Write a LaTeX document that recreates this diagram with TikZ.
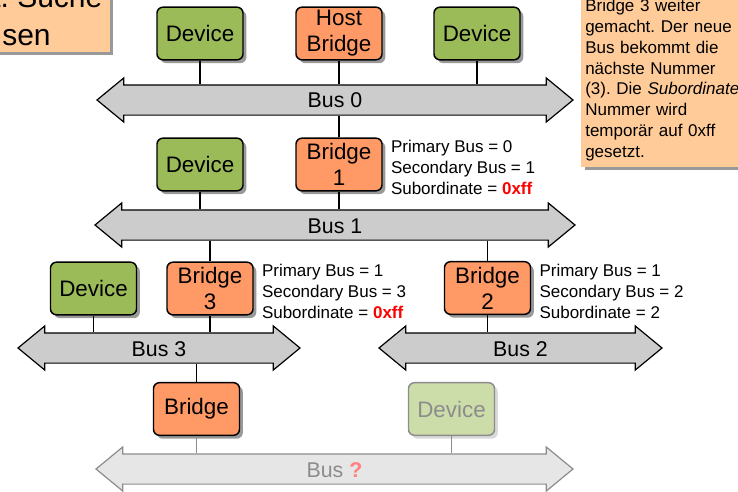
\documentclass[tikz,border=0pt]{standalone}
\usepackage{fontspec}
\setmainfont{Liberation Sans}
\usetikzlibrary{positioning}
\usetikzlibrary{shapes.arrows}
\usetikzlibrary{shadows}
\frenchspacing

\definecolor{devgreen}{HTML}{9BBB59}
\definecolor{bridgeorange}{HTML}{FF9966}
\definecolor{notepeach}{HTML}{FFCC99}
\definecolor{busgray}{HTML}{CCCCCC}
\definecolor{fadegreen}{HTML}{CCDDAA}
\definecolor{fadebus}{HTML}{E6E6E6}
\definecolor{fadeline}{HTML}{8C8C8C}
\definecolor{fadered}{HTML}{FF8080}

\tikzset{
  box/.style={draw, line width=1.1pt, rounded corners=4.5pt, minimum width=64.5pt, minimum height=39.5pt, inner sep=1pt, align=center, font=\fontsize{16.8}{19.5}\selectfont},
  device/.style={box, fill=devgreen, drop shadow={shadow xshift=2.5pt, shadow yshift=-2.5pt, fill=black!40, opacity=1}},
  bridge/.style={box, fill=bridgeorange, drop shadow={shadow xshift=2.5pt, shadow yshift=-2.5pt, fill=black!40, opacity=1}},
  faded/.style={box, draw=fadeline, fill=fadegreen, text=fadeline, drop shadow={shadow xshift=2.5pt, shadow yshift=-2.5pt, fill=black!15, opacity=1}},
  bus/.style={double arrow, draw, line width=0.9pt, fill=busgray, double arrow head extend=5.25pt, double arrow tip angle=79, minimum width=32.25pt, text height=12pt, text depth=0pt, inner xsep=0pt, inner ysep=4.875pt, font=\fontsize{16}{19}\selectfont},
  fadedbus/.style={draw=fadeline, fill=fadebus, text=fadeline},
  wire/.style={line width=0.9pt},
  fadewire/.style={line width=0.9pt, draw=fadeline},
  info/.style={align=left, inner sep=0pt, font=\fontsize{12.75}{15.75}\selectfont},
  note/.style={fill=notepeach, align=left, drop shadow={shadow xshift=2.5pt, shadow yshift=-2.5pt, fill=black!40, opacity=1}},
  bigtext/.style={inner sep=0pt, font=\fontsize{22.5}{27}\selectfont},
}

\begin{document}
\begin{tikzpicture}[x=0.75pt, y=-0.75pt]
  \useasboundingbox (0,0) rectangle (738,492);

  \node[note, anchor=south east, minimum width=120pt, minimum height=60pt] (note_left) at (110,52) {};
  \node[bigtext, anchor=base west] (note_left_1) at (-8,8) {t. Suche};
  \node[bigtext, anchor=base west] (note_left_2) at (2,45.5) {sen};
  \node[note, anchor=south west, inner xsep=3pt, inner ysep=0pt, minimum height=129.9pt, text width=170pt, font=\fontsize{12.75}{15.6}\selectfont] (note_right) at (581,167) {Bridge 3 weiter\\gemacht. Der neue\\Bus bekommt die\\nächste Nummer\\(3). Die \textit{Subordinate}\\Nummer wird\\temporär auf 0xff\\gesetzt.};

  \node[device] (dev_01) at (200,33.5) {Device};
  \node[bridge] (host_bridge) at (339,33.5) {Host\\Bridge};
  \node[device] (dev_02) at (477,33.5) {Device};
  \node[bus, minimum height=357pt] (bus_0) at (335,100) {Bus 0};

  \node[device] (dev_11) at (200,164.5) {Device};
  \node[bridge] (bridge_1) at (339,164.5) {Bridge\\1};
  \node[info, right=6pt of bridge_1, yshift=-2.25pt] (info_1) {Primary Bus = 0\\Secondary Bus = 1\\Subordinate = \textcolor{red}{\textbf{0xff}}};
  \node[bus, minimum height=360pt] (bus_1) at (335,225) {Bus 1};

  \node[device] (dev_31) at (93.5,288.5) {Device};
  \node[bridge] (bridge_3) at (210,288.5) {Bridge\\3};
  \node[info, right=6pt of bridge_3, yshift=-2.25pt] (info_3) {Primary Bus = 1\\Secondary Bus = 3\\Subordinate = \textcolor{red}{\textbf{0xff}}};
  \node[bus, minimum height=211.5pt] (bus_3) at (159,348) {Bus 3};

  \node[bridge] (bridge_2) at (487.5,288) {Bridge\\2};
  \node[info, right=6pt of bridge_2, yshift=-2.25pt] (info_2) {Primary Bus = 1\\Secondary Bus = 2\\Subordinate = 2};
  \node[bus, minimum height=212.25pt] (bus_2) at (520.5,348) {Bus 2};

  \node[bridge] (bridge_n) at (196.5,409) {Bridge};
  \node[faded] (dev_n) at (451.5,409) {Device};
  \node[bus, fadedbus, minimum height=357.75pt] (bus_n) at (334.5,469) {Bus {\color{fadered}\textbf{?}}};

  \draw[wire] (dev_01) -- (dev_01 |- bus_0.north);
  \draw[wire] (host_bridge) -- (host_bridge |- bus_0.north);
  \draw[wire] (dev_02) -- (dev_02 |- bus_0.north);
  \draw[wire] (bridge_1) -- (bridge_1 |- bus_0.south);

  \draw[wire] (dev_11) -- (dev_11 |- bus_1.north);
  \draw[wire] (bridge_1) -- (bridge_1 |- bus_1.north);
  \draw[wire] (bridge_3) -- (bridge_3 |- bus_1.south);
  \draw[wire] (bridge_2) -- (bridge_2 |- bus_1.south);

  \draw[wire] (dev_31) -- (dev_31 |- bus_3.north);
  \draw[wire] (bridge_3) -- (bridge_3 |- bus_3.north);
  \draw[wire] (bridge_2) -- (bridge_2 |- bus_2.north);
  \draw[wire] (bridge_n) -- (bridge_n |- bus_3.south);

  \draw[fadewire] (bridge_n) -- (bridge_n |- bus_n.north);
  \draw[fadewire] (dev_n) -- (dev_n |- bus_n.north);
\end{tikzpicture}
\end{document}
